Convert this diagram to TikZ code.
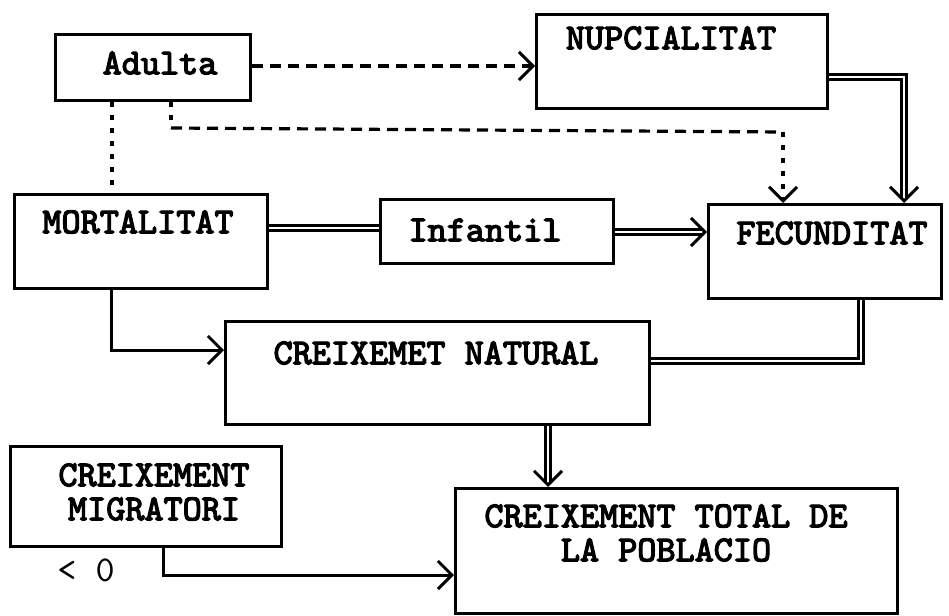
\documentclass[tikz,border=0pt]{standalone}
\usepackage{fontspec}
\setmonofont{lmmono10-regular}[Extension=.otf,AutoFakeBold=3.5]
\usetikzlibrary{arrows.meta}
\begin{document}
\begin{tikzpicture}[x=1pt,y=-1pt,
  box/.style={draw,line width=3pt,rectangle,inner sep=0pt,anchor=north west},
  lbl/.style={font=\ttfamily\bfseries\fontsize{36.4}{38}\selectfont,inner sep=0pt,align=center},
  tip/.style={-{Straight Barb[length=14pt,width=28pt,line width=3pt]}},
  solidln/.style={line width=3pt},
  dbl/.style={double,line width=2.4pt,double distance=2.4pt},
  dsh/.style={line width=3.2pt,dash pattern=on 11pt off 7pt},
  dot/.style={line width=3.2pt,dash pattern=on 5pt off 8pt}]
\useasboundingbox (0,0) rectangle (949,615);
% boxes
\node[box,minimum width=195pt,minimum height=66pt] (adulta) at (54,33) {};
\node[box,minimum width=253pt,minimum height=94pt] (mort) at (13,193) {};
\node[box,minimum width=233pt,minimum height=64pt] (inf) at (379,198) {};
\node[box,minimum width=291pt,minimum height=94pt] (nup) at (535,13) {};
\node[box,minimum width=233pt,minimum height=94pt] (fec) at (707,203) {};
\node[box,minimum width=424pt,minimum height=103pt] (cn) at (224,320) {};
\node[box,minimum width=271pt,minimum height=100pt] (cm) at (9,445) {};
\node[box,minimum width=442pt,minimum height=125pt] (ct) at (454,487) {};
% labels
\node[lbl] (tadulta) at (160,63) {Adulta};
\node[lbl] (tmort) at (138,222) {MORTALITAT};
\node[lbl] (tinf) at (485,230) {Infantil};
\node[lbl] (tnup) at (671,38) {NUPCIALITAT};
\node[lbl] (tfec) at (832,233) {FECUNDITAT};
\node[lbl] (tcn) at (436,353) {CREIXEMET NATURAL};
\node[lbl] (tcm) at (154,492) {CREIXEMENT\\[-4pt]MIGRATORI};
\node[lbl] (tct) at (666,533) {CREIXEMENT TOTAL DE\\[-4pt]LA POBLACIO};
\node[lbl,font=\ttfamily\fontsize{36.4}{38}\selectfont] (tlt) at (86,570) {< 0};
% bend coordinates
\coordinate (c1) at (111,350);
\coordinate (c2) at (171,128);
\coordinate (c3) at (783,132);
\coordinate (c4) at (904,77);
\coordinate (c5) at (861,361);
\coordinate (c6) at (548,0);
\coordinate (c7) at (163,575);
\coordinate (c8) at (0,228);
\coordinate (c9) at (0,232);
\coordinate (c10) at (112,0);
\coordinate (c11) at (0,66);
% connectors
\draw[dsh,tip] (adulta.east |- c11) -- (nup.west |- c11);
\draw[dot] (adulta.south -| c10) -- (mort.north -| c10);
\draw[dot] (adulta.south -| c2) -- (c2);
\draw[dsh] (c2) -- (c3);
\draw[dot,tip] (c3) -- (fec.north -| c3);
\draw[dbl] (mort.east |- c8) -- (inf.west |- c8);
\draw[dbl,tip] (inf.east |- c9) -- (fec.west |- c9);
\draw[dbl,tip] (nup.east |- c4) -| (fec.north -| c4);
\draw[dbl] (fec.south -| c5) |- (cn.east |- c5);
\draw[solidln,tip] (mort.south -| c1) |- (cn.west |- c1);
\draw[dbl,tip] (cn.south -| c6) -- (ct.north -| c6);
\draw[solidln,tip] (cm.south -| c7) |- (ct.west |- c7);
\end{tikzpicture}
\end{document}
